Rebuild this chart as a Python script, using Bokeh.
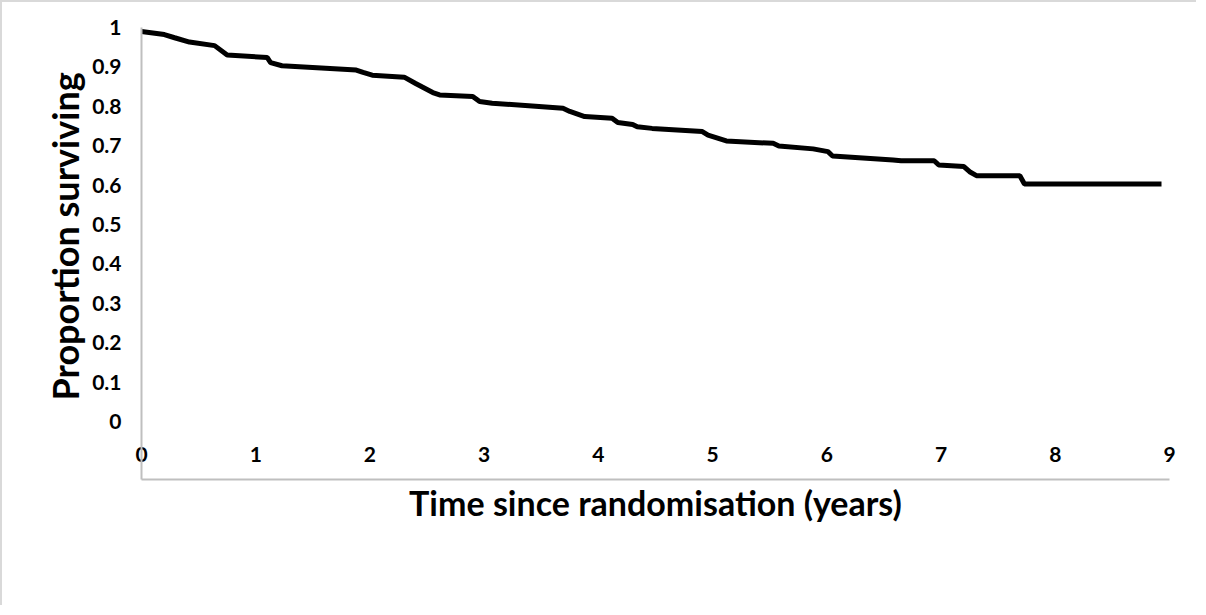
from bokeh.plotting import figure
from bokeh.models import Range1d, FixedTicker, Title
from bokeh.embed import file_html
from bokeh.resources import INLINE

# Kaplan-Meier style survival curve (years, proportion surviving)
time_years = [0, 0.20, 0.29, 0.42, 0.64, 0.75, 1.10, 1.13, 1.23, 1.88, 1.94, 2.02,
              2.30, 2.40, 2.55, 2.61, 2.90, 2.96, 3.07, 3.42, 3.69, 3.75, 3.88,
              4.12, 4.17, 4.30, 4.34, 4.47, 4.91, 4.96, 5.12, 5.53, 5.58, 5.88,
              6.01, 6.05, 6.58, 6.65, 6.94, 6.98, 7.09, 7.20, 7.25, 7.31, 7.69,
              7.73, 8.93]
surviving = [0.99, 0.982, 0.974, 0.963, 0.954, 0.930, 0.924, 0.911, 0.903, 0.892,
             0.886, 0.879, 0.874, 0.858, 0.835, 0.829, 0.825, 0.812, 0.808, 0.801,
             0.795, 0.787, 0.774, 0.770, 0.759, 0.754, 0.748, 0.744, 0.736, 0.727,
             0.712, 0.706, 0.699, 0.692, 0.685, 0.674, 0.664, 0.662, 0.662, 0.651,
             0.649, 0.647, 0.634, 0.624, 0.624, 0.603, 0.603]

y_ticks = [0, 0.1, 0.2, 0.3, 0.4, 0.5, 0.6, 0.7, 0.8, 0.9, 1]
y_tick_labels = ["0", "0.1", "0.2", "0.3", "0.4", "0.5", "0.6", "0.7", "0.8", "0.9", "1"]
x_ticks = [0, 1, 2, 3, 4, 5, 6, 7, 8, 9]

FONT = "Lato"
AXIS_GRAY = "#bfbfbf"

p = figure(width=1196, height=605, output_backend="svg", toolbar_location=None,
           x_range=Range1d(0, 9), y_range=Range1d(-0.147, 1.0),
           min_border_left=139, min_border_right=29, min_border_top=25,
           min_border_bottom=128)
p.styles = {"border-top": "2px solid #d9d9d9", "border-left": "2px solid #d9d9d9"}
p.outline_line_color = None
p.xgrid.visible = False
p.ygrid.visible = False

p.line(time_years, surviving, line_color="black", line_width=5)

# y axis
ya = p.yaxis[0]
ya.ticker = FixedTicker(ticks=y_ticks)
ya.major_label_overrides = {t: l for t, l in zip(y_ticks, y_tick_labels)}
ya.major_tick_line_color = None
ya.minor_tick_line_color = None
ya.major_tick_out = 0
ya.major_label_standoff = 20
ya.axis_line_color = AXIS_GRAY
ya.axis_line_width = 2
ya.major_label_text_font = FONT
ya.major_label_text_font_style = "bold"
ya.major_label_text_font_size = "21px"
ya.major_label_text_color = "black"

# x axis (labels sit just above the axis line)
xa = p.xaxis[0]
xa.ticker = FixedTicker(ticks=x_ticks)
xa.major_tick_line_color = None
xa.minor_tick_line_color = None
xa.major_tick_out = 0
xa.major_label_standoff = -33
xa.axis_line_color = AXIS_GRAY
xa.axis_line_width = 2
xa.major_label_text_font = FONT
xa.major_label_text_font_style = "bold"
xa.major_label_text_font_size = "21px"
xa.major_label_text_color = "black"

p.add_layout(Title(text="Time since randomisation (years)", align="center",
                   text_font=FONT, text_font_style="bold", text_font_size="34px",
                   text_color="black", standoff=0), "below")
p.add_layout(Title(text="Proportion surviving", align="left", offset=79,
                   text_font=FONT, text_font_style="bold", text_font_size="36px",
                   text_color="black", standoff=6), "left")

open("out.html", "w").write(file_html(p, INLINE))
